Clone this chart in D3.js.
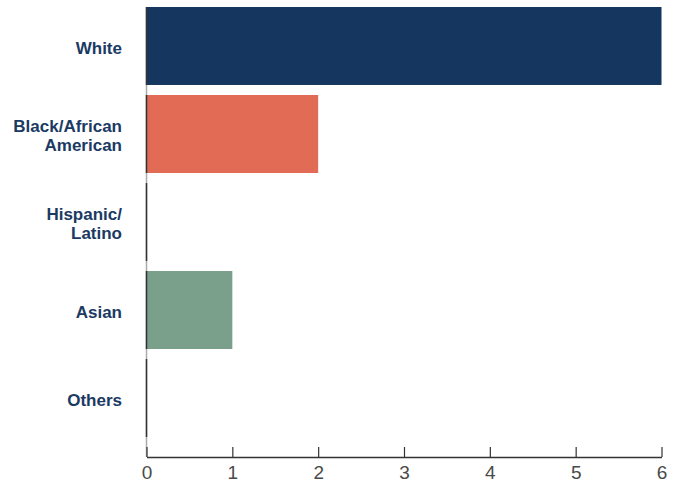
<!DOCTYPE html>
<html><head><meta charset="utf-8">
<script src="https://cdn.jsdelivr.net/npm/d3@7"></script>
<style>body{margin:0;background:#fff}</style>
</head><body>
<svg id="c" width="674" height="484"></svg>
<script>
const categories = ["White", "Black/African American", "Hispanic/ Latino", "Asian", "Others"];
const labelLines = [["White"], ["Black/African", "American"], ["Hispanic/", "Latino"], ["Asian"], ["Others"]];
const values = [6, 2, 0, 1, 0];
const colors = ["#15375f", "#e16b55", "#15375f", "#7a9f8a", "#15375f"];
const xTicks = [0, 1, 2, 3, 4, 5, 6];

const svg = d3.select("#c");
const x = d3.scaleLinear().domain([0, 6]).range([146.5, 661.5]);
const y = d3.scaleBand().domain(categories).range([7, 437]).paddingInner(0.114).paddingOuter(0);
const axisY = 457;

// y axis line (light)
svg.append("line").attr("x1", x(0)).attr("x2", x(0)).attr("y1", 7).attr("y2", axisY)
  .attr("stroke", "#aaa").attr("stroke-width", 1.5);

svg.selectAll("rect.bar").data(categories).enter().append("rect")
  .attr("class", "bar")
  .attr("x", x(0))
  .attr("y", d => y(d))
  .attr("width", (d, i) => x(values[i]) - x(0))
  .attr("height", y.bandwidth())
  .attr("fill", (d, i) => colors[i]);

// dark baseline segment per band
svg.selectAll("line.base").data(categories).enter().append("line")
  .attr("x1", x(0)).attr("x2", x(0))
  .attr("y1", d => y(d)).attr("y2", d => y(d) + y.bandwidth())
  .attr("stroke", "#333").attr("stroke-width", 1.5);

// x axis
const xAxis = d3.axisBottom(x).tickValues(xTicks).tickFormat(d3.format("d")).tickSize(-10).tickSizeOuter(0).tickPadding(9);
const gx = svg.append("g").attr("transform", `translate(0,${axisY})`).call(xAxis);
gx.select(".domain").attr("stroke", "#333").attr("stroke-width", 1.5);
gx.selectAll(".tick line").attr("stroke", "#333").attr("stroke-width", 1.2);
gx.selectAll(".tick text").attr("font-family", "Liberation Sans, Arial, sans-serif")
  .attr("font-size", 19).attr("fill", "#4a4a4a").attr("dy", "0.71em");

// category labels
const lg = svg.append("g");
categories.forEach((c, i) => {
  const lines = labelLines[i];
  const cy = y(c) + y.bandwidth() / 2 + 2;
  const lh = 19;
  const t = lg.append("text")
    .attr("x", 122).attr("text-anchor", "end")
    .attr("font-family", "Liberation Sans, Arial, sans-serif")
    .attr("font-weight", "bold").attr("font-size", 17).attr("fill", "#1a3a63");
  lines.forEach((l, j) => {
    t.append("tspan").attr("x", 122)
      .attr("y", cy + (j - (lines.length - 1) / 2) * lh)
      .attr("dy", "0.35em").text(l);
  });
});
</script>
</body></html>
